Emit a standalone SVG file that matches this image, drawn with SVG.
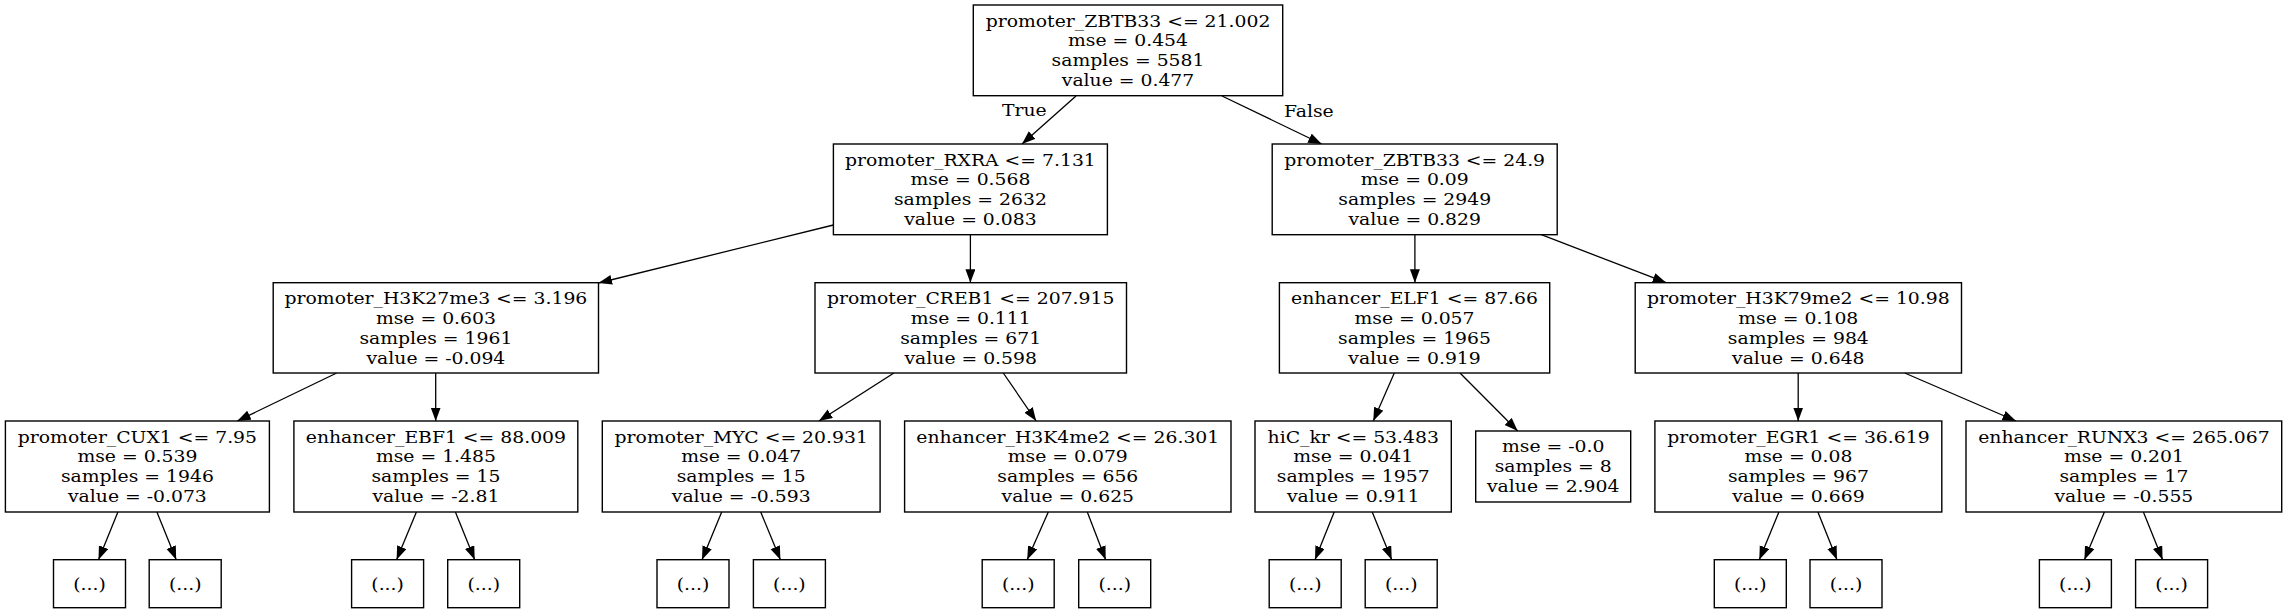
<svg xmlns="http://www.w3.org/2000/svg" width="2287" height="613" viewBox="0 0 2287 613">
<style>
.box{fill:#fff;stroke:#000;stroke-width:1.4}
.t{font-family:"DejaVu Serif",serif;font-size:16.9px;fill:#000;text-anchor:middle}
.e{stroke:#000;stroke-width:1.3;fill:none;marker-end:url(#ah)}
</style>
<defs>
<marker id="ah" markerUnits="userSpaceOnUse" markerWidth="14" markerHeight="11" refX="13.5" refY="5" orient="auto">
<path d="M0,0 L13.5,5 L0,10 z" fill="#000"/>
</marker>
</defs>
<rect width="2287" height="613" fill="#fff"/>
<g id="edges">
<line class="e" x1="1076" y1="96" x2="1022" y2="144"/>
<line class="e" x1="1222" y1="96" x2="1321.7" y2="144"/>
<line class="e" x1="833.4" y1="225" x2="598.5" y2="283"/>
<line class="e" x1="970.4" y1="234.7" x2="970.4" y2="282.7"/>
<line class="e" x1="1414.9" y1="234.7" x2="1414.9" y2="282.7"/>
<line class="e" x1="1541.3" y1="234.7" x2="1666.2" y2="282.7"/>
<line class="e" x1="336.7" y1="373" x2="237.2" y2="421"/>
<line class="e" x1="435.7" y1="373" x2="435.7" y2="421"/>
<line class="e" x1="893.9" y1="373" x2="818.9" y2="421"/>
<line class="e" x1="1003.3" y1="373" x2="1036.2" y2="421"/>
<line class="e" x1="1394.3" y1="373" x2="1373.3" y2="421"/>
<line class="e" x1="1460" y1="373" x2="1517.7" y2="431"/>
<line class="e" x1="1798.2" y1="373" x2="1798.2" y2="421"/>
<line class="e" x1="1904.7" y1="373" x2="2016" y2="421"/>
<line class="e" x1="117.9" y1="512" x2="98.5" y2="559.7"/>
<line class="e" x1="156.9" y1="512" x2="176.2" y2="559.7"/>
<line class="e" x1="416.4" y1="512" x2="396.6" y2="559.7"/>
<line class="e" x1="455.4" y1="512" x2="474.7" y2="559.7"/>
<line class="e" x1="721.7" y1="512" x2="702" y2="559.7"/>
<line class="e" x1="760.7" y1="512" x2="780.4" y2="559.7"/>
<line class="e" x1="1048.3" y1="512" x2="1027.2" y2="559.7"/>
<line class="e" x1="1087.3" y1="512" x2="1105.7" y2="559.7"/>
<line class="e" x1="1334.2" y1="512" x2="1315" y2="559.7"/>
<line class="e" x1="1372.2" y1="512" x2="1391.7" y2="559.7"/>
<line class="e" x1="1778.9" y1="512" x2="1759.3" y2="559.7"/>
<line class="e" x1="1817.9" y1="512" x2="1837" y2="559.7"/>
<line class="e" x1="2104.4" y1="512" x2="2084.4" y2="559.7"/>
<line class="e" x1="2143.4" y1="512" x2="2162.6" y2="559.7"/>
<text class="t" transform="translate(1024.3 116) scale(1.112 1)">True</text>
<text class="t" transform="translate(1308.8 116.5) scale(1.112 1)">False</text>
</g>
<g id="n0"><rect class="box" x="973.3" y="5" width="309.4" height="90.7"/>
<text class="t" transform="translate(1128 26.5) scale(1.112 1)"><tspan x="0" y="0">promoter_ZBTB33 &lt;= 21.002</tspan><tspan x="0" dy="19.8">mse = 0.454</tspan><tspan x="0" dy="19.8">samples = 5581</tspan><tspan x="0" dy="19.8">value = 0.477</tspan></text></g>
<g id="n1"><rect class="box" x="833.4" y="144" width="274" height="90.7"/>
<text class="t" transform="translate(970.4 165.5) scale(1.112 1)"><tspan x="0" y="0">promoter_RXRA &lt;= 7.131</tspan><tspan x="0" dy="19.8">mse = 0.568</tspan><tspan x="0" dy="19.8">samples = 2632</tspan><tspan x="0" dy="19.8">value = 0.083</tspan></text></g>
<g id="n2"><rect class="box" x="1272.2" y="144" width="285" height="90.7"/>
<text class="t" transform="translate(1414.7 165.5) scale(1.112 1)"><tspan x="0" y="0">promoter_ZBTB33 &lt;= 24.9</tspan><tspan x="0" dy="19.8">mse = 0.09</tspan><tspan x="0" dy="19.8">samples = 2949</tspan><tspan x="0" dy="19.8">value = 0.829</tspan></text></g>
<g id="n3"><rect class="box" x="273.2" y="282.7" width="325.3" height="90.3"/>
<text class="t" transform="translate(435.9 304.2) scale(1.112 1)"><tspan x="0" y="0">promoter_H3K27me3 &lt;= 3.196</tspan><tspan x="0" dy="19.8">mse = 0.603</tspan><tspan x="0" dy="19.8">samples = 1961</tspan><tspan x="0" dy="19.8">value = -0.094</tspan></text></g>
<g id="n4"><rect class="box" x="815" y="282.7" width="311.5" height="90.3"/>
<text class="t" transform="translate(970.7 304.2) scale(1.112 1)"><tspan x="0" y="0">promoter_CREB1 &lt;= 207.915</tspan><tspan x="0" dy="19.8">mse = 0.111</tspan><tspan x="0" dy="19.8">samples = 671</tspan><tspan x="0" dy="19.8">value = 0.598</tspan></text></g>
<g id="n5"><rect class="box" x="1279.4" y="282.7" width="270.3" height="90.3"/>
<text class="t" transform="translate(1414.5 304.2) scale(1.112 1)"><tspan x="0" y="0">enhancer_ELF1 &lt;= 87.66</tspan><tspan x="0" dy="19.8">mse = 0.057</tspan><tspan x="0" dy="19.8">samples = 1965</tspan><tspan x="0" dy="19.8">value = 0.919</tspan></text></g>
<g id="n6"><rect class="box" x="1635.2" y="282.7" width="326.3" height="90.3"/>
<text class="t" transform="translate(1798.3 304.2) scale(1.112 1)"><tspan x="0" y="0">promoter_H3K79me2 &lt;= 10.98</tspan><tspan x="0" dy="19.8">mse = 0.108</tspan><tspan x="0" dy="19.8">samples = 984</tspan><tspan x="0" dy="19.8">value = 0.648</tspan></text></g>
<g id="n7"><rect class="box" x="5.4" y="421" width="264" height="91"/>
<text class="t" transform="translate(137.4 442.5) scale(1.112 1)"><tspan x="0" y="0">promoter_CUX1 &lt;= 7.95</tspan><tspan x="0" dy="19.8">mse = 0.539</tspan><tspan x="0" dy="19.8">samples = 1946</tspan><tspan x="0" dy="19.8">value = -0.073</tspan></text></g>
<g id="n8"><rect class="box" x="293.9" y="421" width="283.9" height="91"/>
<text class="t" transform="translate(435.9 442.5) scale(1.112 1)"><tspan x="0" y="0">enhancer_EBF1 &lt;= 88.009</tspan><tspan x="0" dy="19.8">mse = 1.485</tspan><tspan x="0" dy="19.8">samples = 15</tspan><tspan x="0" dy="19.8">value = -2.81</tspan></text></g>
<g id="n9"><rect class="box" x="602.3" y="421" width="277.8" height="91"/>
<text class="t" transform="translate(741.2 442.5) scale(1.112 1)"><tspan x="0" y="0">promoter_MYC &lt;= 20.931</tspan><tspan x="0" dy="19.8">mse = 0.047</tspan><tspan x="0" dy="19.8">samples = 15</tspan><tspan x="0" dy="19.8">value = -0.593</tspan></text></g>
<g id="n10"><rect class="box" x="904.6" y="421" width="326.4" height="91"/>
<text class="t" transform="translate(1067.8 442.5) scale(1.112 1)"><tspan x="0" y="0">enhancer_H3K4me2 &lt;= 26.301</tspan><tspan x="0" dy="19.8">mse = 0.079</tspan><tspan x="0" dy="19.8">samples = 656</tspan><tspan x="0" dy="19.8">value = 0.625</tspan></text></g>
<g id="n11"><rect class="box" x="1255" y="421" width="196.3" height="91"/>
<text class="t" transform="translate(1353.2 442.5) scale(1.112 1)"><tspan x="0" y="0">hiC_kr &lt;= 53.483</tspan><tspan x="0" dy="19.8">mse = 0.041</tspan><tspan x="0" dy="19.8">samples = 1957</tspan><tspan x="0" dy="19.8">value = 0.911</tspan></text></g>
<g id="n12"><rect class="box" x="1475.7" y="431" width="155" height="71"/>
<text class="t" transform="translate(1553.2 452.3) scale(1.112 1)"><tspan x="0" y="0">mse = -0.0</tspan><tspan x="0" dy="19.8">samples = 8</tspan><tspan x="0" dy="19.8">value = 2.904</tspan></text></g>
<g id="n13"><rect class="box" x="1654.9" y="421" width="286.9" height="91"/>
<text class="t" transform="translate(1798.4 442.5) scale(1.112 1)"><tspan x="0" y="0">promoter_EGR1 &lt;= 36.619</tspan><tspan x="0" dy="19.8">mse = 0.08</tspan><tspan x="0" dy="19.8">samples = 967</tspan><tspan x="0" dy="19.8">value = 0.669</tspan></text></g>
<g id="n14"><rect class="box" x="1966" y="421" width="315.7" height="91"/>
<text class="t" transform="translate(2123.9 442.5) scale(1.112 1)"><tspan x="0" y="0">enhancer_RUNX3 &lt;= 265.067</tspan><tspan x="0" dy="19.8">mse = 0.201</tspan><tspan x="0" dy="19.8">samples = 17</tspan><tspan x="0" dy="19.8">value = -0.555</tspan></text></g>
<g id="l1"><rect class="box" x="53.5" y="559.7" width="72" height="48"/><text class="t" transform="translate(89.5 589.5) scale(1.112 1)">(...)</text></g>
<g id="l2"><rect class="box" x="149.2" y="559.7" width="72" height="48"/><text class="t" transform="translate(185.2 589.5) scale(1.112 1)">(...)</text></g>
<g id="l3"><rect class="box" x="351.6" y="559.7" width="72" height="48"/><text class="t" transform="translate(387.6 589.5) scale(1.112 1)">(...)</text></g>
<g id="l4"><rect class="box" x="447.7" y="559.7" width="72" height="48"/><text class="t" transform="translate(483.7 589.5) scale(1.112 1)">(...)</text></g>
<g id="l5"><rect class="box" x="657" y="559.7" width="72" height="48"/><text class="t" transform="translate(693 589.5) scale(1.112 1)">(...)</text></g>
<g id="l6"><rect class="box" x="753.4" y="559.7" width="72" height="48"/><text class="t" transform="translate(789.4 589.5) scale(1.112 1)">(...)</text></g>
<g id="l7"><rect class="box" x="982.2" y="559.7" width="72" height="48"/><text class="t" transform="translate(1018.2 589.5) scale(1.112 1)">(...)</text></g>
<g id="l8"><rect class="box" x="1078.7" y="559.7" width="72" height="48"/><text class="t" transform="translate(1114.7 589.5) scale(1.112 1)">(...)</text></g>
<g id="l9"><rect class="box" x="1269.2" y="559.7" width="72" height="48"/><text class="t" transform="translate(1305.2 589.5) scale(1.112 1)">(...)</text></g>
<g id="l10"><rect class="box" x="1365.2" y="559.7" width="72" height="48"/><text class="t" transform="translate(1401.2 589.5) scale(1.112 1)">(...)</text></g>
<g id="l11"><rect class="box" x="1714.3" y="559.7" width="72" height="48"/><text class="t" transform="translate(1750.3 589.5) scale(1.112 1)">(...)</text></g>
<g id="l12"><rect class="box" x="1810" y="559.7" width="72" height="48"/><text class="t" transform="translate(1846 589.5) scale(1.112 1)">(...)</text></g>
<g id="l13"><rect class="box" x="2039.4" y="559.7" width="72" height="48"/><text class="t" transform="translate(2075.4 589.5) scale(1.112 1)">(...)</text></g>
<g id="l14"><rect class="box" x="2135.6" y="559.7" width="72" height="48"/><text class="t" transform="translate(2171.6 589.5) scale(1.112 1)">(...)</text></g>
</svg>
